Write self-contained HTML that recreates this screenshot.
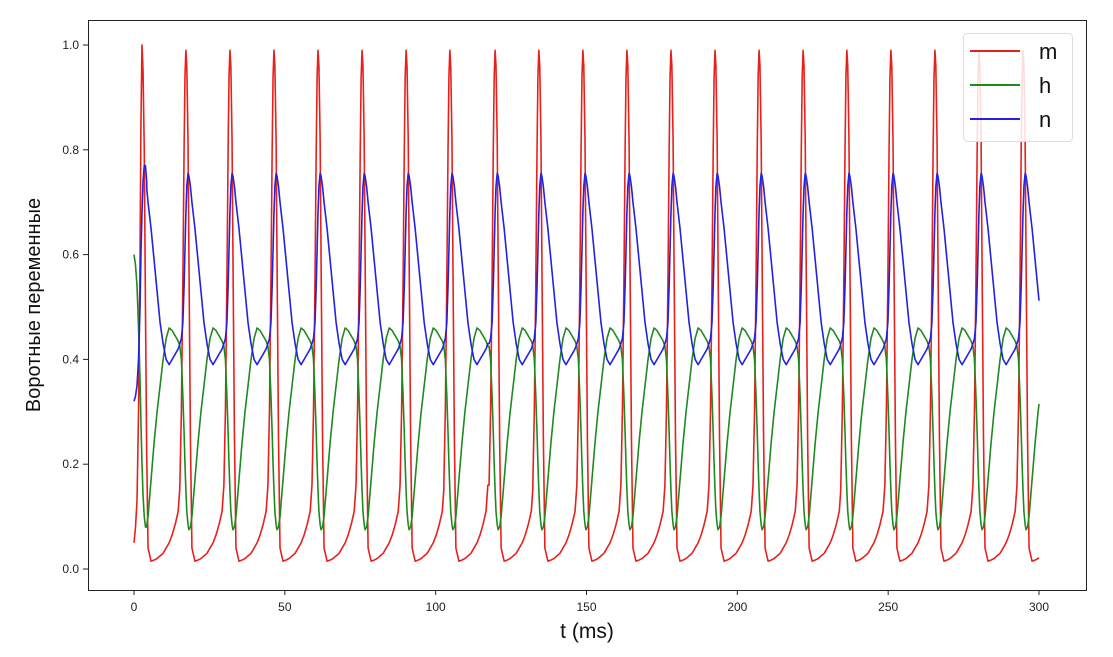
<!DOCTYPE html>
<html><head><meta charset="utf-8"><style>
body{margin:0;background:#fff;}
svg text{font-family:"Liberation Sans","DejaVu Sans",sans-serif;}
</style></head><body>
<svg id="chart" width="1113" height="652">
<rect x="0" y="0" width="1113" height="652" fill="#fff"/>
<g id="ticks"></g>
<g id="series"></g>
<rect x="88.5" y="20.5" width="998" height="570" fill="none" stroke="#222" stroke-width="1"/>
<text x="587" y="638" font-size="21" text-anchor="middle" fill="#111">t (ms)</text>
<text transform="translate(40,305) rotate(-90)" font-size="20" text-anchor="middle" fill="#111">Воротные переменные</text>
<g>
<rect x="963.5" y="33.5" width="109" height="108" rx="4" fill="#fff" fill-opacity="0.85" stroke="#ddd"/>
<g><line x1="970" y1="51" x2="1020" y2="51" stroke="#e8201c" stroke-width="2"/><text x="1039" y="59" font-size="22" fill="#111">m</text></g>
<g><line x1="970" y1="85" x2="1020" y2="85" stroke="#1e8a1e" stroke-width="2"/><text x="1039" y="93" font-size="22" fill="#111">h</text></g>
<g><line x1="970" y1="119" x2="1020" y2="119" stroke="#2222e0" stroke-width="2"/><text x="1039" y="127" font-size="22" fill="#111">n</text></g>
</g>
</svg>
<script>
const xTicks=[0,50,100,150,200,250,300];
const yTicks=[0.0,0.2,0.4,0.6,0.8,1.0];
const spikeTimes=[2.65,17.2,31.8,46.4,61.0,75.6,90.2,104.7,119.7,134.2,148.8,163.4,178.0,192.6,207.2,221.8,236.3,250.9,265.5,280.1,294.7];
const cycleOffsets=[-2,-1.5,-1,-0.6,-0.3,0,0.3,0.7,1,1.5,2,3,4,5,6,7,8,9,10,11,12,12.6];
const mShape=[0.16,0.3,0.55,0.8,0.94,0.99,0.96,0.82,0.6,0.25,0.04,0.015,0.017,0.02,0.025,0.03,0.04,0.05,0.065,0.085,0.11,0.16];
const hShape=[0.425,0.40,0.33,0.26,0.2,0.15,0.11,0.085,0.075,0.08,0.10,0.17,0.24,0.30,0.35,0.40,0.44,0.46,0.455,0.445,0.435,0.425];
const nShape=[0.43,0.44,0.47,0.54,0.61,0.68,0.73,0.755,0.75,0.73,0.70,0.65,0.59,0.53,0.47,0.43,0.40,0.39,0.40,0.41,0.42,0.43];
const initT=[0,0.5,1,1.5,2,2.3,2.65,3,3.4,3.8,4.2];
const initM=[0.05,0.08,0.13,0.3,0.6,0.85,1.0,0.95,0.8,0.5,0.22];
const initH=[0.60,0.58,0.54,0.46,0.36,0.28,0.2,0.14,0.1,0.08,0.08];
const initN=[0.32,0.33,0.35,0.4,0.5,0.6,0.68,0.74,0.77,0.77,0.74];

const NS="http://www.w3.org/2000/svg";
const X=t=>134+t*(1039-134)/300;
const Y=v=>569-v*(569-45);
function interp(xs,ys,x){
  if(x<=xs[0])return ys[0];
  for(let i=1;i<xs.length;i++){if(x<=xs[i]){const f=(x-xs[i-1])/(xs[i]-xs[i-1]);return ys[i-1]+f*(ys[i]-ys[i-1]);}}
  return ys[ys.length-1];
}
function val(shape,init,t){
  if(t<=initT[initT.length-1])return interp(initT,init,t);
  let tp=spikeTimes[0];
  for(const s of spikeTimes){if(t>=s-2)tp=s;}
  let off=t-tp;
  const per=cycleOffsets[cycleOffsets.length-1];
  if(off>per)off=per;
  return interp(cycleOffsets,shape,off);
}
const tg=document.getElementById('ticks');
xTicks.forEach(v=>{
  const l=document.createElementNS(NS,'line');
  l.setAttribute('x1',X(v));l.setAttribute('x2',X(v));l.setAttribute('y1',590);l.setAttribute('y2',595);l.setAttribute('stroke','#222');
  
  
  tg.appendChild(l);
  const t=document.createElementNS(NS,'text');
  t.setAttribute('x',X(v));t.setAttribute('y',611);t.setAttribute('font-size','12');t.setAttribute('text-anchor','middle');t.setAttribute('fill','#222');
  t.textContent=v;
  
  
  tg.appendChild(t);
});
yTicks.forEach(v=>{
  const l=document.createElementNS(NS,'line');
  l.setAttribute('x1',83);l.setAttribute('x2',88);l.setAttribute('y1',Y(v));l.setAttribute('y2',Y(v));l.setAttribute('stroke','#222');
  
  
  tg.appendChild(l);
  const t=document.createElementNS(NS,'text');
  t.setAttribute('x',79);t.setAttribute('y',Y(v)+4);t.setAttribute('font-size','12');t.setAttribute('text-anchor','end');t.setAttribute('fill','#222');
  t.textContent=v.toFixed(1);
  
  
  tg.appendChild(t);
});
const sg=document.getElementById('series');
[['m',mShape,initM,'#e8201c'],['h',hShape,initH,'#1e8a1e'],['n',nShape,initN,'#2222e0']].forEach(([name,shape,init,col])=>{
  let d='';
  for(let t=0;t<=300.0001;t+=0.05){d+=(d?'L':'M')+X(t).toFixed(2)+','+Y(val(shape,init,t)).toFixed(2);}
  const p=document.createElementNS(NS,'path');
  p.setAttribute('d',d);p.setAttribute('fill','none');p.setAttribute('stroke',col);p.setAttribute('stroke-width','1.6');p.setAttribute('stroke-linejoin','round');
  
  
  sg.appendChild(p);
});
</script>
</body></html>
